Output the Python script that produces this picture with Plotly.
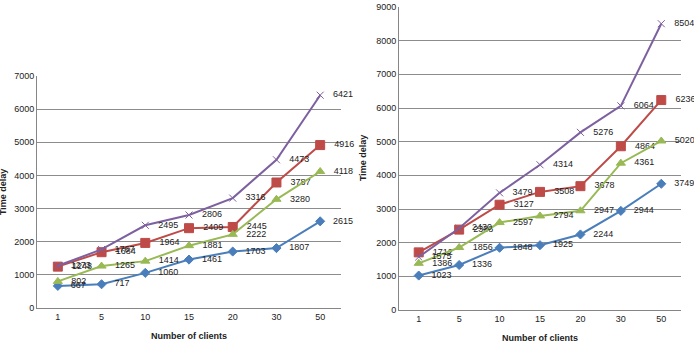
import plotly.graph_objects as go

categories = ["1", "5", "10", "15", "20", "30", "50"]

left_blue = [667, 717, 1060, 1461, 1703, 1807, 2615]
left_green = [802, 1265, 1414, 1881, 2222, 3280, 4118]
left_red = [1248, 1684, 1964, 2409, 2445, 3787, 4916]
left_purple = [1273, 1767, 2495, 2806, 3316, 4473, 6421]

right_blue = [1023, 1336, 1848, 1925, 2244, 2944, 3749]
right_green = [1386, 1856, 2597, 2794, 2947, 4361, 5020]
right_red = [1712, 2388, 3127, 3508, 3678, 4864, 6236]
right_purple = [1575, 2430, 3479, 4314, 5276, 6064, 8504]

series_names = ["Series1", "Series2", "Series3", "Series4"]
colors = ["#4A7EBB", "#BE4B48", "#98B954", "#7D60A0"]
symbols = ["diamond", "square", "triangle-up", "x-thin"]
sizes = [7, 9, 8, 7]

W, H = 694, 380  # figure taller than the window; the bottom (legend) is cropped
FONT = "Liberation Sans"

fig = go.Figure()

left = [left_blue, left_red, left_green, left_purple]
right = [right_blue, right_red, right_green, right_purple]

for side, data, xa, ya in [("L", left, "x", "y"), ("R", right, "x2", "y2")]:
    for i, vals in enumerate(data):
        fig.add_trace(go.Scatter(
            x=categories, y=vals, xaxis=xa, yaxis=ya,
            mode="lines+markers+text",
            name=series_names[i],
            showlegend=(side == "L"),
            line=dict(color=colors[i], width=2),
            marker=dict(symbol=symbols[i], size=sizes[i], color=colors[i],
                        line=dict(color=colors[i], width=1)),
            text=[f"   {v}" for v in vals],
            textposition="middle right",
            textfont=dict(family=FONT, size=9, color="#222222"),
            cliponaxis=False,
        ))

def px_x(p):
    return p / W

def px_y(p):
    return 1 - p / H

axis_common = dict(showline=True, linecolor="#868686", linewidth=1,
                   tickfont=dict(family=FONT, size=9, color="#222222"),
                   zeroline=False, ticks="")

fig.update_layout(
    width=W, height=H,
    margin=dict(l=0, r=0, t=0, b=0, autoexpand=False),
    plot_bgcolor="white", paper_bgcolor="white",
    showlegend=True,
    legend=dict(orientation="h", x=px_x(120), y=px_y(346), xanchor="left", yanchor="top",
                entrywidth=52, font=dict(family=FONT, size=9), bgcolor="rgba(0,0,0,0)"),
    xaxis=dict(domain=[px_x(37), px_x(341)], anchor="y", type="category",
               showgrid=False, **axis_common),
    yaxis=dict(domain=[px_y(308), px_y(76)], anchor="x", range=[0, 7000], dtick=1000,
               showgrid=True, gridcolor="#8C8C8C", gridwidth=1, **axis_common),
    xaxis2=dict(domain=[px_x(399), px_x(681)], anchor="y2", type="category",
                showgrid=False, **axis_common),
    yaxis2=dict(domain=[px_y(310), px_y(7)], anchor="x2", range=[0, 9000], dtick=1000,
                showgrid=True, gridcolor="#8C8C8C", gridwidth=1, **axis_common),
)

ann = [
    dict(text="<b>Number of clients</b>", x=px_x(189), y=px_y(336)),
    dict(text="<b>Number of clients</b>", x=px_x(540), y=px_y(338)),
    dict(text="<b>Time delay</b>", x=px_x(3), y=px_y(192), textangle=-90),
    dict(text="<b>Time delay</b>", x=px_x(363), y=px_y(158), textangle=-90),
]
for a in ann:
    fig.add_annotation(xref="paper", yref="paper", showarrow=False,
                       xanchor="center", yanchor="middle",
                       font=dict(family=FONT, size=9, color="#222222"), **a)

fig.write_html(
    "out.html",
    post_script="document.documentElement.style.overflow='hidden';document.body.style.overflow='hidden';",
)
